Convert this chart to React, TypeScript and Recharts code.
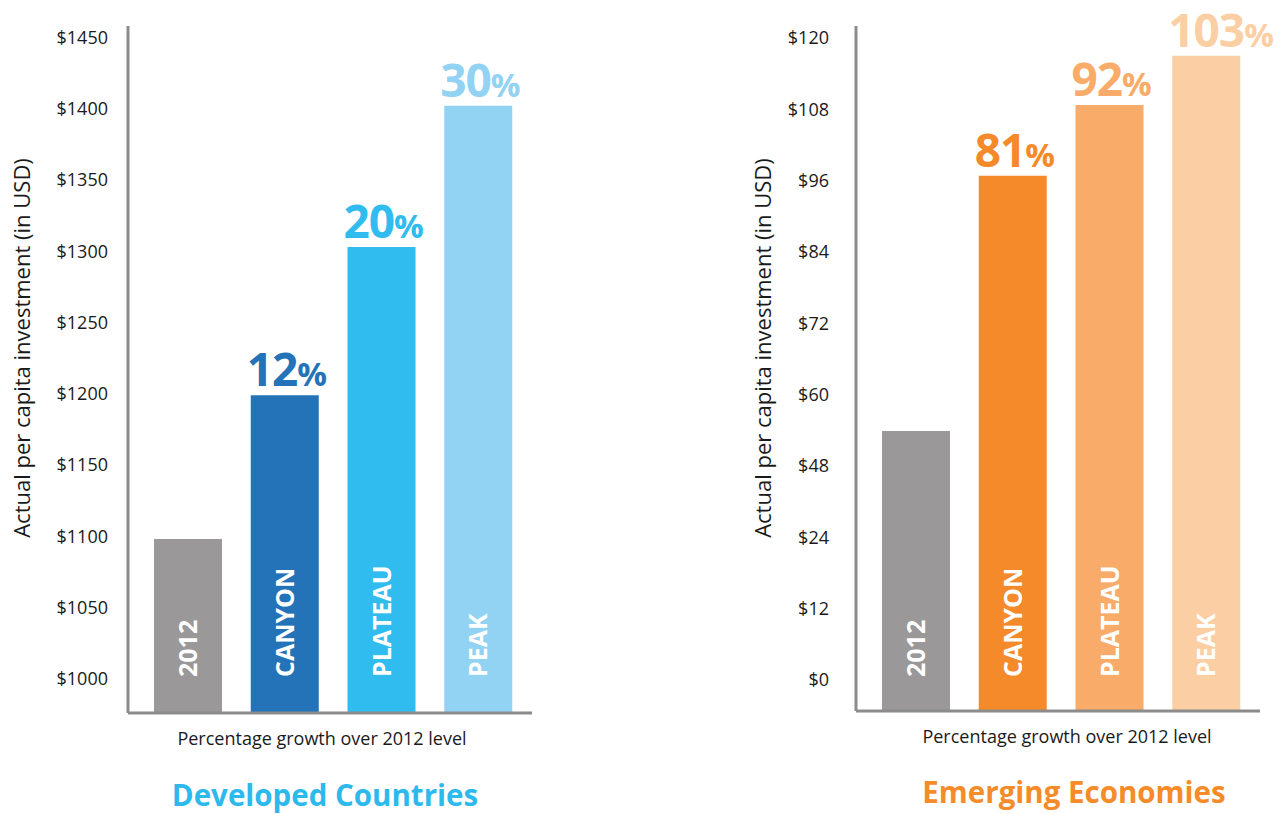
import React from "react";
import { BarChart, Bar, XAxis, YAxis, Cell, LabelList } from "recharts";

const categories = ["2012", "CANYON", "PLATEAU", "PEAK"];

const developedValues = [1098, 1199, 1303, 1402];
const developedGrowth = ["", "12", "20", "30"];
const developedColors = ["#9A9899", "#2473B8", "#30BCEF", "#92D2F3"];
const developedTicks = [1000, 1050, 1100, 1150, 1200, 1250, 1300, 1350, 1400, 1450];

const emergingValues = [53.9, 96.8, 108.7, 117.0];
const emergingGrowth = ["", "81", "92", "103"];
const emergingColors = ["#9A9899", "#F58A2B", "#F9AC6A", "#FBCFA3"];
const emergingTicks = [12, 24, 36, 48, 60, 72, 84, 96, 108, 120];
const emergingTickLabels = ["$0", "$12", "$24", "$48", "$60", "$72", "$84", "$96", "$108", "$120"];

const FONT = "'Open Sans', 'Noto Sans', sans-serif";
const AXIS = "#8C8C8C";

interface PanelProps {
  left: number;
  values: number[];
  growth: string[];
  colors: string[];
  domain: [number, number];
  ticks: number[];
  tickFormatter: (v: number) => string;
  axisBottom: number;
  tickGap: number;
}

const Panel = ({ left, values, growth, colors, domain, ticks, tickFormatter, axisBottom, tickGap }: PanelProps) => {
  const data = categories.map((name, i) => ({ name, value: values[i], growth: growth[i] }));
  const H = 760;

  const renderGrowth = (p: any) => {
    const { x, y, index } = p;
    const g = growth[index];
    if (!g) return null;
    return (
      <text x={x - 4} y={y - 9} fill={colors[index]} fontFamily={FONT} fontWeight={700} letterSpacing={-1}>
        <tspan fontSize={46}>{g}</tspan>
        <tspan fontSize={33}>%</tspan>
      </text>
    );
  };

  const renderCategory = (p: any) => {
    const { x, width, index } = p;
    const bx = x + width / 2 + 9;
    const by = 677;
    return (
      <text
        x={bx}
        y={by}
        transform={`rotate(-90 ${bx} ${by})`}
        fill="#FFFFFF"
        fontFamily={FONT}
        fontWeight={700}
        fontSize={25}
        textAnchor="start"
      >
        {categories[index]}
      </text>
    );
  };

  return (
    <div style={{ position: "absolute", left, top: 0, width: 560, height: H }}>
      <BarChart width={560} height={H} data={data} margin={{ top: 26, right: 28, left: 0, bottom: 0 }}>
        <XAxis
          dataKey="name"
          tick={false}
          tickLine={false}
          height={H - axisBottom}
          axisLine={{ stroke: AXIS, strokeWidth: 3 }}
          padding={{ left: 12, right: 5 }}
        />
        <YAxis
          type="number"
          width={128}
          domain={domain}
          allowDataOverflow
          ticks={ticks}
          interval={0}
          tickFormatter={tickFormatter}
          tickLine={false}
          tickSize={0}
          tickMargin={tickGap}
          axisLine={{ stroke: AXIS, strokeWidth: 3 }}
          tick={{ fontSize: 18, fill: "#1A1A1A", fontFamily: FONT }}
        />
        <Bar dataKey="value" barSize={68} isAnimationActive={false}>
          {data.map((_, i) => (
            <Cell key={i} fill={colors[i]} />
          ))}
          <LabelList dataKey="growth" content={renderGrowth} />
          <LabelList dataKey="name" content={renderCategory} />
        </Bar>
      </BarChart>
    </div>
  );
};

const App = () => {
  return (
    <div style={{ position: "absolute", left: 0, top: 0, width: 1287, height: 814, background: "#FFFFFF", fontFamily: FONT }}>
      <Panel
        left={0}
        values={developedValues}
        growth={developedGrowth}
        colors={developedColors}
        domain={[976, 1458]}
        ticks={developedTicks}
        tickFormatter={(v) => `$${v}`}
        axisBottom={713}
        tickGap={20}
      />
      <Panel
        left={728}
        values={emergingValues}
        growth={emergingGrowth}
        colors={emergingColors}
        domain={[6.8, 122]}
        ticks={emergingTicks}
        tickFormatter={(v) => emergingTickLabels[emergingTicks.indexOf(v)] ?? ""}
        axisBottom={711}
        tickGap={27}
      />
      <svg width={1287} height={814} style={{ position: "absolute", left: 0, top: 0, pointerEvents: "none" }}>
        <text x={30} y={348} transform="rotate(-90 30 348)" textAnchor="middle" fontSize={22} fill="#1A1A1A" fontFamily={FONT}>
          Actual per capita investment (in USD)
        </text>
        <text x={771} y={348} transform="rotate(-90 771 348)" textAnchor="middle" fontSize={22} fill="#1A1A1A" fontFamily={FONT}>
          Actual per capita investment (in USD)
        </text>
        <text x={322} y={745} textAnchor="middle" fontSize={18} fill="#1A1A1A" fontFamily={FONT}>
          Percentage growth over 2012 level
        </text>
        <text x={1067} y={743} textAnchor="middle" fontSize={18} fill="#1A1A1A" fontFamily={FONT}>
          Percentage growth over 2012 level
        </text>
        <text x={325} y={806} textAnchor="middle" fontSize={29.5} fontWeight={700} fill="#2DB9EC" fontFamily={FONT}>
          Developed Countries
        </text>
        <text x={1074} y={803} textAnchor="middle" fontSize={29.5} fontWeight={700} fill="#F68B2A" fontFamily={FONT}>
          Emerging Economies
        </text>
      </svg>
    </div>
  );
};

export default App;
